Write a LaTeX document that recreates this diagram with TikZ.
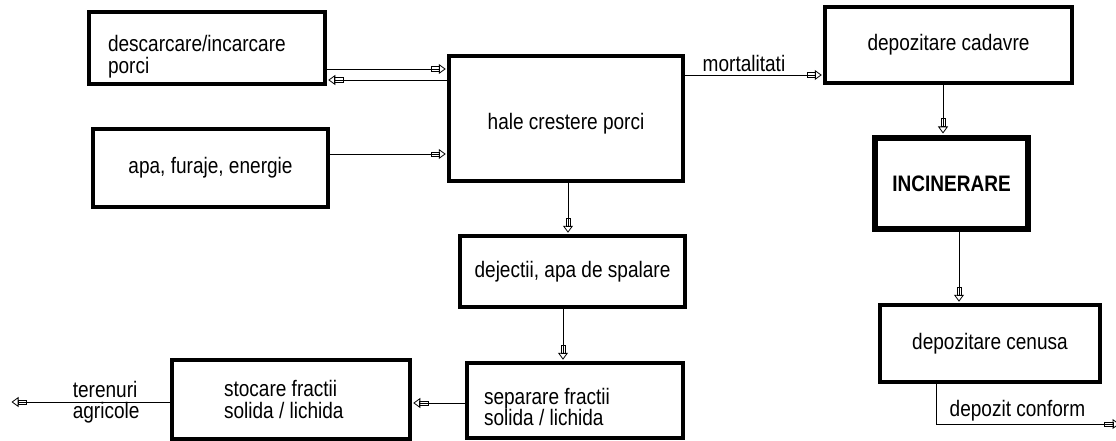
\documentclass[tikz,border=0pt]{standalone}
\usepackage{fontspec}
\newfontfamily\diagfont[FakeStretch=0.85]{Liberation Sans}
\usetikzlibrary{arrows.meta}

\begin{document}
\begin{tikzpicture}[x=1pt, y=-1pt,
    every node/.style={font=\diagfont\fontsize{22.4}{21.5}\selectfont},
    box/.style={draw, line width=3.5pt, inner sep=0pt},
    flow/.style={line width=0.8pt, shorten >=1.5pt,
        -{Rectangle[open, length=9pt, width=5pt, sep=-0.8pt] Triangle[open, length=7pt, width=10pt]}}]
    \useasboundingbox (0,0) rectangle (1116,441);

    \node[box, minimum width=236pt, minimum height=72pt, text width=198pt, inner xsep=19pt, align=flush left,
        text height=16pt, text depth=8pt] (descarc) at (207,48) {descarcare/incarcare\\porci};
    \node[box, minimum width=235pt, minimum height=78pt] (apa) at (210.5,168) {apa, furaje, energie};
    \node[box, minimum width=234pt, minimum height=125pt, text height=23pt, text depth=0pt] (hale) at (566,118.5) {hale crestere porci};
    \node[box, minimum width=247pt, minimum height=76pt] (cadavre) at (948.5,45) {depozitare cadavre};
    \node[box, line width=6pt, minimum width=153pt, minimum height=91pt] (incin) at (951.5,183.5) {\bfseries INCINERARE};
    \node[box, minimum width=220pt, minimum height=77pt] (cenusa) at (990,343.5) {depozitare cenusa};
    \node[box, minimum width=225pt, minimum height=71pt] (dejectii) at (572.5,271.5) {dejectii, apa de spalare};
    \node[box, minimum width=216pt, minimum height=75pt, text width=182pt, inner xsep=17pt, align=flush left,
        text height=16pt, text depth=9pt] (separare) at (575,400.5) {separare fractii\\solida / lichida};
    \node[box, minimum width=238pt, minimum height=79pt, text width=134pt, inner xsep=52pt, align=flush left] (stocare) at (291,399.5) {stocare fractii\\solida / lichida};

    % free ends
    \coordinate (agricole) at (10,402);
    \coordinate (conform) at (1121,424);

    \draw[flow] ([yshift=-21pt]descarc.east) -- ([yshift=-21pt]descarc.east -| hale.west);
    \draw[flow] ([yshift=-32pt]descarc.east -| hale.west) -- ([yshift=-32pt]descarc.east);
    \draw[flow] ([yshift=14pt]apa.east) -- ([yshift=14pt]apa.east -| hale.west);
    \draw[flow] ([yshift=43.5pt]hale.east) -- ([yshift=43.5pt]hale.east -| cadavre.west)
        node[midway, above, xshift=-10pt] (mortal) {mortalitati};
    \draw[flow] ([xshift=-5.5pt]cadavre.south) -- ([xshift=-5.5pt]cadavre.south |- incin.north);
    \draw[flow] ([xshift=7.5pt]incin.south) -- ([xshift=7.5pt]incin.south |- cenusa.north);
    \draw[flow] ([xshift=-54pt]cenusa.south) |- (conform)
        node[pos=0.72, above, inner sep=2pt] (depozit) {depozit conform};
    \draw[flow] ([xshift=2pt]hale.south) -- ([xshift=2pt]hale.south |- dejectii.north);
    \draw[flow] ([xshift=-9.5pt]dejectii.south) -- ([xshift=-9.5pt]dejectii.south |- separare.north);
    \draw[flow] ([yshift=-2.5pt]separare.west) -- ([yshift=-2.5pt]separare.west -| stocare.east);
    \draw[flow] ([yshift=-2.5pt]stocare.west) -- (agricole)
        node[pos=0.4, align=left] (terenuri) {terenuri\\agricole};
\end{tikzpicture}
\end{document}
